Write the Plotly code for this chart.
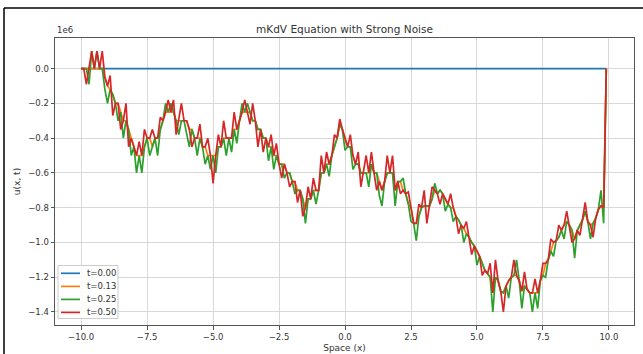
import plotly.graph_objects as go

# spatial grid (x from -10 to 9.9, step 0.1)
x_space = [round(-10 + 0.1 * k, 1) for k in range(200)]

# values are in units of 1e6 (matplotlib offset text "1e6")
u_t000 = [0.0] * 200

u_t013 = [
    0, 0, 0, 0, 0, 0, 0, 0, 0, -0.05,
    -0.1, -0.12, -0.15, -0.2, -0.2, -0.25, -0.3, -0.3, -0.35, -0.4,
    -0.45, -0.5, -0.5, -0.5, -0.45, -0.4, -0.4, -0.45, -0.4, -0.4,
    -0.35, -0.3, -0.25, -0.25, -0.25, -0.25, -0.3, -0.3, -0.3, -0.3,
    -0.3, -0.35, -0.35, -0.4, -0.4, -0.4, -0.45, -0.45, -0.5, -0.5,
    -0.5, -0.5, -0.45, -0.45, -0.4, -0.4, -0.4, -0.4, -0.35, -0.35,
    -0.3, -0.25, -0.25, -0.25, -0.25, -0.3, -0.3, -0.35, -0.35, -0.4,
    -0.4, -0.45, -0.45, -0.5, -0.5, -0.55, -0.55, -0.55, -0.6, -0.6,
    -0.65, -0.65, -0.7, -0.7, -0.75, -0.8, -0.75, -0.75, -0.7, -0.7,
    -0.7, -0.6, -0.6, -0.55, -0.55, -0.5, -0.45, -0.4, -0.32, -0.35,
    -0.4, -0.45, -0.45, -0.5, -0.55, -0.55, -0.6, -0.6, -0.6, -0.6,
    -0.55, -0.6, -0.6, -0.65, -0.7, -0.65, -0.6, -0.6, -0.6, -0.7,
    -0.65, -0.65, -0.7, -0.72, -0.78, -0.8, -0.89, -0.89, -0.85, -0.8,
    -0.79, -0.79, -0.79, -0.75, -0.7, -0.72, -0.7, -0.72, -0.75, -0.78,
    -0.8, -0.8, -0.85, -0.87, -0.9, -0.92, -0.95, -0.97, -1.0, -1.02,
    -1.05, -1.08, -1.12, -1.16, -1.18, -1.2, -1.29, -1.2, -1.22, -1.28,
    -1.29, -1.25, -1.22, -1.2, -1.19, -1.19, -1.22, -1.28, -1.25, -1.27,
    -1.29, -1.29, -1.29, -1.29, -1.22, -1.19, -1.12, -1.1, -1.05, -1.0,
    -0.99, -0.97, -0.93, -0.9, -0.88, -0.9, -0.93, -0.98, -0.93, -0.9,
    -0.87, -0.82, -0.88, -0.9, -0.89, -0.86, -0.81, -0.79, -0.79, 0.0,
]

u_t025 = [
    0, 0, 0, -0.09, 0.1, 0, 0.1, 0, 0, -0.12,
    -0.2, -0.12, -0.15, -0.2, -0.3, -0.25, -0.4, -0.3, -0.35, -0.5,
    -0.45, -0.6, -0.5, -0.6, -0.45, -0.4, -0.5, -0.45, -0.4, -0.5,
    -0.35, -0.3, -0.2, -0.25, -0.2, -0.25, -0.3, -0.38, -0.3, -0.3,
    -0.38, -0.45, -0.35, -0.4, -0.5, -0.4, -0.45, -0.55, -0.5, -0.58,
    -0.5, -0.6, -0.45, -0.45, -0.4, -0.5, -0.4, -0.48, -0.35, -0.43,
    -0.3, -0.2, -0.25, -0.2, -0.25, -0.3, -0.3, -0.35, -0.35, -0.4,
    -0.4, -0.53, -0.45, -0.58, -0.5, -0.55, -0.55, -0.63, -0.6, -0.6,
    -0.65, -0.72, -0.7, -0.7, -0.75, -0.89, -0.75, -0.75, -0.7, -0.78,
    -0.7, -0.6, -0.6, -0.55, -0.62, -0.5, -0.45, -0.4, -0.32, -0.35,
    -0.47, -0.45, -0.45, -0.58, -0.55, -0.55, -0.6, -0.6, -0.6, -0.68,
    -0.55, -0.6, -0.6, -0.73, -0.79, -0.65, -0.6, -0.6, -0.6, -0.79,
    -0.65, -0.65, -0.63, -0.72, -0.78, -0.88, -0.89, -0.99, -0.85, -0.8,
    -0.79, -0.79, -0.79, -0.75, -0.66, -0.72, -0.7, -0.72, -0.82, -0.78,
    -0.8, -0.88, -0.85, -0.87, -0.9, -1.0, -0.95, -0.97, -1.0, -1.02,
    -1.13, -1.08, -1.12, -1.16, -1.18, -1.2, -1.4, -1.2, -1.22, -1.28,
    -1.29, -1.25, -1.32, -1.2, -1.19, -1.1, -1.22, -1.38, -1.25, -1.27,
    -1.29, -1.4, -1.29, -1.38, -1.22, -1.19, -1.2, -1.1, -1.05, -1.08,
    -0.99, -0.97, -0.93, -0.98, -0.88, -0.9, -0.93, -1.09, -0.93, -0.9,
    -0.87, -0.82, -0.88, -0.98, -0.89, -0.86, -0.81, -0.7, -0.89, 0.0,
]

u_t050 = [
    0, 0, -0.09, 0, 0.1, 0, 0.1, 0, 0.1, -0.05,
    -0.1, -0.04, -0.27, -0.2, -0.2, -0.35, -0.3, -0.2, -0.45, -0.4,
    -0.45, -0.5, -0.42, -0.5, -0.35, -0.4, -0.4, -0.35, -0.4, -0.4,
    -0.28, -0.3, -0.25, -0.18, -0.25, -0.18, -0.38, -0.3, -0.2, -0.3,
    -0.3, -0.35, -0.45, -0.4, -0.4, -0.32, -0.45, -0.45, -0.4, -0.5,
    -0.66, -0.5, -0.38, -0.45, -0.3, -0.4, -0.4, -0.4, -0.25, -0.35,
    -0.3, -0.25, -0.18, -0.25, -0.32, -0.2, -0.3, -0.45, -0.35, -0.48,
    -0.4, -0.45, -0.38, -0.5, -0.43, -0.55, -0.63, -0.55, -0.6, -0.68,
    -0.65, -0.65, -0.77, -0.7, -0.85, -0.8, -0.68, -0.75, -0.63, -0.7,
    -0.7, -0.5, -0.6, -0.48, -0.55, -0.5, -0.38, -0.4, -0.29, -0.35,
    -0.4, -0.45, -0.38, -0.5, -0.55, -0.48, -0.68, -0.6, -0.5, -0.6,
    -0.48, -0.6, -0.7, -0.65, -0.7, -0.65, -0.5, -0.6, -0.5, -0.7,
    -0.65, -0.72, -0.7, -0.72, -0.71, -0.8, -0.89, -0.89, -0.78, -0.8,
    -0.7, -0.89, -0.79, -0.68, -0.7, -0.72, -0.78, -0.72, -0.75, -0.78,
    -0.72, -0.8, -0.85, -0.95, -0.9, -0.92, -0.88, -0.97, -1.07, -1.02,
    -1.05, -1.08, -1.19, -1.16, -1.18, -1.12, -1.29, -1.1, -1.22, -1.28,
    -1.4, -1.25, -1.22, -1.2, -1.1, -1.19, -1.22, -1.28, -1.17, -1.27,
    -1.29, -1.29, -1.21, -1.29, -1.22, -1.12, -1.12, -1.1, -0.98, -1.0,
    -0.99, -0.9, -0.93, -0.9, -0.82, -0.9, -1.0, -0.98, -0.93, -0.96,
    -0.87, -0.77, -0.88, -0.9, -0.97, -0.86, -0.81, -0.79, -0.8, 0.0,
]

series_names = ["t=0.00", "t=0.13", "t=0.25", "t=0.50"]
series_values = [u_t000, u_t013, u_t025, u_t050]
series_colors = ["#1f77b4", "#ff7f0e", "#2ca02c", "#d62728"]

x_ticks = [-10.0, -7.5, -5.0, -2.5, 0.0, 2.5, 5.0, 7.5, 10.0]
y_ticks = [0.0, -0.2, -0.4, -0.6, -0.8, -1.0, -1.2, -1.4]

FONT = "DejaVu Sans"
W, H = 643, 354
ML, MR, MT, MB = 55, 9, 38, 29
PW, PH = W - ML - MR, H - MT - MB
TXT = "#333333"


def px_to_paper_x(px):
    return (px - ML) / PW


def py_to_paper_y(py):
    return (H - MB - py) / PH


fig = go.Figure()
for name, vals, col in zip(series_names, series_values, series_colors):
    fig.add_trace(go.Scatter(x=x_space, y=vals, mode="lines", name=name,
                             line=dict(color=col, width=1.7),
                             showlegend=False))

fig.update_layout(
    width=W, height=H,
    margin=dict(l=ML, r=MR, t=MT, b=MB, autoexpand=False),
    paper_bgcolor="white", plot_bgcolor="white",
    font=dict(family=FONT, size=9, color=TXT),
    title=dict(text="mKdV Equation with Strong Noise", x=0.5, xref="paper",
               xanchor="center", y=1 - 29 / H, yanchor="middle",
               font=dict(family=FONT, size=10.5, color=TXT)),
    showlegend=False,
    xaxis=dict(range=[-10.99, 10.95], tickvals=x_ticks, tickformat=".1f",
               automargin=False,
               showgrid=True, gridcolor="#d8d8d8", gridwidth=0.9,
               zeroline=False, showline=True, linecolor="#555", linewidth=1,
               mirror=True, ticks="outside", ticklen=3.5, tickcolor="#555",
               tickfont=dict(family=FONT, size=8.5, color=TXT),
               title=dict(text="Space (x)", standoff=3,
                          font=dict(family=FONT, size=9, color=TXT))),
    yaxis=dict(range=[-1.475, 0.176], tickvals=y_ticks, tickformat=".1f",
               automargin=False,
               showgrid=True, gridcolor="#d8d8d8", gridwidth=0.9,
               zeroline=False, showline=True, linecolor="#555", linewidth=1,
               mirror=True, ticks="outside", ticklen=3.5, tickcolor="#555",
               tickfont=dict(family=FONT, size=8.5, color=TXT),
               title=dict(text="u(x, t)", standoff=6,
                          font=dict(family=FONT, size=9, color=TXT))),
)

fig.add_annotation(text="1e6", xref="paper", yref="paper", x=0, y=1,
                   xanchor="left", yanchor="bottom", yshift=1, showarrow=False,
                   font=dict(family=FONT, size=8.5, color=TXT))

# legend box (matplotlib-style, lower left inside the axes)
fig.add_shape(type="rect", xref="paper", yref="paper",
              x0=px_to_paper_x(58), x1=px_to_paper_x(118),
              y0=py_to_paper_y(318.5), y1=py_to_paper_y(265.5),
              fillcolor="rgba(255,255,255,0.85)",
              line=dict(color="#cccccc", width=1), layer="above")
legend_rows = [273.3, 286.4, 299.4, 312.4]
for name, col, ry in zip(series_names, series_colors, legend_rows):
    fig.add_shape(type="line", xref="paper", yref="paper",
                  x0=px_to_paper_x(61), x1=px_to_paper_x(80),
                  y0=py_to_paper_y(ry), y1=py_to_paper_y(ry),
                  line=dict(color=col, width=1.7), layer="above")
    fig.add_annotation(text=name, xref="paper", yref="paper",
                       x=px_to_paper_x(85), y=py_to_paper_y(ry),
                       xanchor="left", yanchor="middle", showarrow=False,
                       font=dict(family=FONT, size=8.5, color=TXT))

# screenshot frame lines (top and left)
fig.add_shape(type="line", xref="paper", yref="paper",
              x0=px_to_paper_x(4), x1=px_to_paper_x(W + 2),
              y0=py_to_paper_y(8), y1=py_to_paper_y(8),
              line=dict(color="black", width=1.5))
fig.add_shape(type="line", xref="paper", yref="paper",
              x0=px_to_paper_x(4), x1=px_to_paper_x(4),
              y0=py_to_paper_y(8), y1=py_to_paper_y(H + 2),
              line=dict(color="black", width=1.5))

fig.write_html("out.html",
               config={"displayModeBar": False},
               post_script="document.body.style.margin='0';"
                           "document.body.style.overflow='hidden';")
